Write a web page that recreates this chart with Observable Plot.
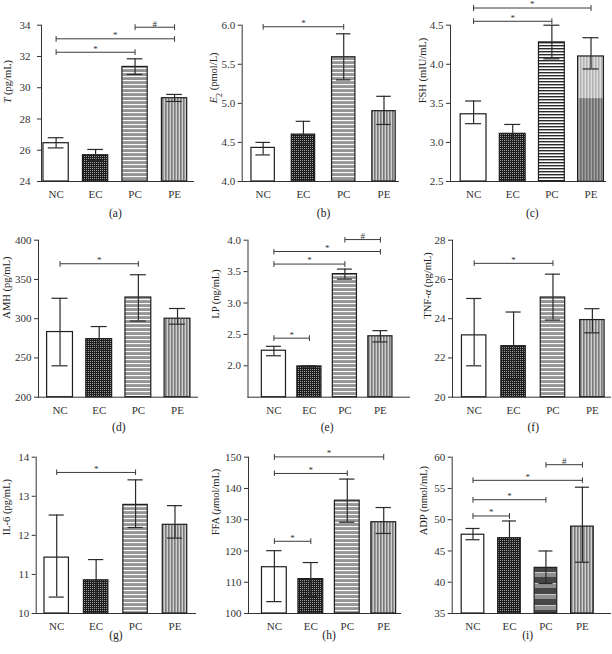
<!DOCTYPE html>
<html>
<head>
<meta charset="utf-8">
<script src="https://cdn.jsdelivr.net/npm/d3@7"></script>
<script src="https://cdn.jsdelivr.net/npm/@observablehq/plot@0.6"></script>
<style>
  body { margin: 0; background: #fff; }
  #fig { position: relative; width: 612px; height: 654px; overflow: hidden; }
  #fig svg { position: absolute; overflow: visible; }
</style>
</head>
<body>
<div id="fig"></div>
<script>
const groups = ["NC", "EC", "PC", "PE"]

// (a) T
const tMean = [26.45, 25.68, 31.33, 29.33]
const tLo = [26.15, 25.34, 30.85, 29.12]
const tHi = [26.8, 26.05, 31.85, 29.57]
const tTicks = [24, 26, 28, 30, 32, 34]
const tSig = [["NC", "PC", 32.27, "*"], ["NC", "PE", 33.13, "*"], ["PC", "PE", 33.87, "#"]]

// (b) E2
const e2Mean = [4.43, 4.60, 5.59, 4.90]
const e2Lo = [4.34, 4.48, 5.30, 4.73]
const e2Hi = [4.50, 4.77, 5.89, 5.09]
const e2Ticks = [4.0, 4.5, 5.0, 5.5, 6.0]
const e2Sig = [["NC", "PC", 5.98, "*"]]

// (c) FSH  (PE bar is two-toned, darker below fshSplit)
const fshMean = [3.36, 3.11, 4.28, 4.10]
const fshLo = [3.24, 3.04, 4.07, 3.94]
const fshHi = [3.53, 3.23, 4.50, 4.34]
const fshTicks = [2.5, 3.0, 3.5, 4.0, 4.5]
const fshSig = [["NC", "PC", 4.55, "*"], ["NC", "PE", 4.72, "*"]]
const fshSplit = 3.56

// (d) AMH
const amhMean = [283, 274, 327, 300]
const amhLo = [240, 260, 297, 293]
const amhHi = [326, 290, 356, 313]
const amhTicks = [200, 250, 300, 350, 400]
const amhSig = [["NC", "PC", 370, "*"]]

// (e) LP
const lpMean = [2.24, 1.99, 3.46, 2.47]
const lpLo = [2.16, 1.98, 3.38, 2.38]
const lpHi = [2.31, 2.00, 3.54, 2.56]
const lpTicks = [2.0, 2.5, 3.0, 3.5, 4.0]
const lpFloor = 1.5
const lpSig = [["NC", "EC", 2.44, "*"], ["NC", "PC", 3.62, "*"], ["NC", "PE", 3.82, "*"], ["PC", "PE", 4.01, "#"]]

// (f) TNF-a
const tnfMean = [23.15, 22.6, 25.08, 23.93]
const tnfLo = [21.6, 20.9, 23.93, 23.28]
const tnfHi = [25.03, 24.34, 26.27, 24.51]
const tnfTicks = [20, 22, 24, 26, 28]
const tnfSig = [["NC", "PC", 26.82, "*"]]

// (g) IL-6
const il6Mean = [11.43, 10.85, 12.78, 12.27]
const il6Lo = [10.42, 10.36, 12.2, 11.93]
const il6Hi = [12.52, 11.38, 13.42, 12.76]
const il6Ticks = [10, 11, 12, 13, 14]
const il6Sig = [["NC", "PC", 13.61, "*"]]

// (h) FFA
const ffaMean = [114.8, 111.0, 136.1, 129.2]
const ffaLo = [103.8, 105.5, 129.2, 125.6]
const ffaHi = [120.1, 116.3, 143.0, 133.9]
const ffaTicks = [100, 110, 120, 130, 140, 150]
const ffaSig = [["NC", "EC", 123.1, "*"], ["NC", "PC", 144.8, "*"], ["NC", "PE", 150.1, "*"]]

// (i) ADP
const adpMean = [47.6, 47.05, 42.3, 48.9]
const adpLo = [46.8, 44.6, 39.8, 43.2]
const adpHi = [48.6, 49.8, 45.0, 55.2]
const adpTicks = [35, 40, 45, 50, 55, 60]
const adpSig = [["NC", "EC", 50.6, "*"], ["NC", "PC", 53.2, "*"], ["NC", "PE", 56.3, "*"], ["PC", "PE", 58.8, "#"]]

const panels = [
  {cap: "(a)", label: "*T* (pg/mL)", mean: tMean, lo: tLo, hi: tHi, ticks: tTicks, sig: tSig},
  {cap: "(b)", label: "*E*_2_ (pmol/L)", mean: e2Mean, lo: e2Lo, hi: e2Hi, ticks: e2Ticks, sig: e2Sig, fmt: ".1f"},
  {cap: "(c)", label: "FSH (mIU/mL)", mean: fshMean, lo: fshLo, hi: fshHi, ticks: fshTicks, sig: fshSig, fmt: ".1f", split: fshSplit},
  {cap: "(d)", label: "AMH (pg/mL)", mean: amhMean, lo: amhLo, hi: amhHi, ticks: amhTicks, sig: amhSig},
  {cap: "(e)", label: "LP (ng/mL)", mean: lpMean, lo: lpLo, hi: lpHi, ticks: lpTicks, sig: lpSig, fmt: ".1f", floor: lpFloor},
  {cap: "(f)", label: "TNF-*α* (pg/mL)", mean: tnfMean, lo: tnfLo, hi: tnfHi, ticks: tnfTicks, sig: tnfSig},
  {cap: "(g)", label: "IL-6 (pg/mL)", mean: il6Mean, lo: il6Lo, hi: il6Hi, ticks: il6Ticks, sig: il6Sig},
  {cap: "(h)", label: "FFA (*μ*mol/mL)", mean: ffaMean, lo: ffaLo, hi: ffaHi, ticks: ffaTicks, sig: ffaSig},
  {cap: "(i)", label: "ADP (nmol/mL)", mean: adpMean, lo: adpLo, hi: adpHi, ticks: adpTicks, sig: adpSig}
]

// layout of each panel (pixels / x-domain in group units)
const colLeft = [0, 200, 400]
const rowTop = [0, 215, 434]
const rowH = [215, 219, 220]
const rowMt = [24.7, 24.7, 22.7]
const rowMb = [34, 37.3, 41]
const capDy = [35, 34, 25]
const layout = [
  {col: 0, row: 0, ml: 41, mr: 19, xd: [-0.37, 3.48], half: 0.32, labX: 7.5, pad: 7},
  {col: 1, row: 0, ml: 41.7, mr: 14, xd: [-0.52, 3.36], half: 0.29, labX: 13, pad: 3},
  {col: 2, row: 0, ml: 50, mr: 7, xd: [-0.59, 3.37], half: 0.33, labX: 22, pad: 3, pc: "bw"},
  {col: 0, row: 1, ml: 38, mr: 15, xd: [-0.55, 3.51], half: 0.33, labX: 6.5, pad: 3},
  {col: 1, row: 1, ml: 47.5, mr: 3, xd: [-0.73, 3.82], half: 0.34, labX: 15, pad: 3},
  {col: 2, row: 1, ml: 52, mr: 2, xd: [-0.55, 3.46], half: 0.31, labX: 27, pad: 3},
  {col: 0, row: 2, ml: 35.7, mr: 17, xd: [-0.52, 3.52], half: 0.31, labX: 6, pad: 3},
  {col: 1, row: 2, ml: 48, mr: 12, xd: [-0.71, 3.46], half: 0.34, labX: 15, pad: 3},
  {col: 2, row: 2, ml: 51.7, mr: 2, xd: [-0.57, 3.77], half: 0.31, labX: 23, pad: 3, pc: "band"}
]
const W = 212

function addPatterns(svg, pre, L) {
  const defs = d3.select(svg).insert("defs", ":first-child")
  const pat = (id, w, h) => defs.append("pattern").attr("id", pre + id)
    .attr("patternUnits", "userSpaceOnUse").attr("width", w).attr("height", h)
  const rect = (p, x, y, w, h, c) => p.append("rect").attr("x", x).attr("y", y).attr("width", w).attr("height", h).attr("fill", c)

  // EC: dark with fine light dots
  let p = pat("EC", 2, 2)
  rect(p, 0, 0, 2, 2, "#1d1d1d")
  rect(p, 0, 0, 1, 1, "#9c9c9c")

  // PC: horizontal stripes
  if (L.pc == "bw") {
    p = pat("PC", 3, 3)
    rect(p, 0, 0, 3, 3, "#fff")
    rect(p, 0, 0, 3, 1.4, "#2a2a2a")
  } else if (L.pc == "band") {
    p = pat("PC", 4, 11)
    rect(p, 0, 0, 4, 11, "#8f8f8f")
    rect(p, 0, 0, 4, 6, "#464646")
    rect(p, 0, 6, 4, 0.8, "#d8d8d8")
  } else {
    p = pat("PC", 4, 4)
    rect(p, 0, 0, 4, 4, "#959595")
    rect(p, 0, 0, 4, 1.1, "#fafafa")
  }

  // PE: vertical stripes
  p = pat("PE", 3, 4)
  rect(p, 0, 0, 3, 4, L.pc == "bw" ? "#dedede" : "#cfcfcf")
  rect(p, 0, 0, 1.6, 4, L.pc == "bw" ? "#b3b3b3" : "#7b7b7b")
  p = pat("PE2", 3, 4)
  rect(p, 0, 0, 3, 4, "#a2a2a2")
  rect(p, 0, 0, 1.6, 4, "#6c6c6c")
}

function markup(s) {
  return s.replace(/\*(.+?)\*/g, '<tspan font-style="italic">$1</tspan>')
    .replace(/_(.+?)_/g, '<tspan baseline-shift="sub" font-size="75%">$1</tspan>')
}

const fig = document.getElementById("fig")

panels.forEach((p, k) => {
  const L = layout[k]
  const pre = "p" + k + "-"
  const gi = g => groups.indexOf(g)
  const rows = groups.map((g, i) => ({i, g, mean: p.mean[i], lo: p.lo[i], hi: p.hi[i]}))
  const caps = rows.flatMap(d => [{i: d.i, y: d.lo}, {i: d.i, y: d.hi}])
  const sig = p.sig.map(([a, b, y, s]) => ({a: gi(a), b: gi(b), y, s}))
  const y0 = p.floor != null ? p.floor : p.ticks[0]
  const cap = L.half * 0.62
  const fillOf = d => d.g == "NC" ? "white" : `url(#${pre}${d.g})`
  const plainLabel = p.label.replace(/[*_]/g, "")

  const marks = [
    Plot.rectY(rows, {x1: d => d.i - L.half, x2: d => d.i + L.half, y1: y0, y2: "mean",
      fill: fillOf, stroke: "#1e1e1e", strokeWidth: 1.2})
  ]
  if (p.split != null) {
    marks.push(Plot.rectY(rows.filter(d => d.g == "PE"), {x1: d => d.i - L.half, x2: d => d.i + L.half,
      y1: y0, y2: p.split, fill: () => `url(#${pre}PE2)`, insetLeft: 0.7, insetRight: 0.7, insetBottom: 0.7}))
  }
  marks.push(
    Plot.ruleX(rows, {x: "i", y1: "lo", y2: "hi", stroke: "#2a2a2a", strokeWidth: 1.2}),
    Plot.ruleY(caps, {x1: d => d.i - cap, x2: d => d.i + cap, y: "y", stroke: "#2a2a2a", strokeWidth: 1.2}),
    Plot.link(sig, {x1: "a", x2: "b", y1: "y", y2: "y", stroke: "#3a3a3a", strokeWidth: 1,
      markerStart: "tick", markerEnd: "tick"}),
    Plot.text(sig, {x: d => (d.a + d.b) / 2, y: "y", text: "s", dy: -3.5, fontSize: 9, fill: "#333"}),
    Plot.text([plainLabel], {frameAnchor: "left", rotate: -90, dx: L.labX - L.ml,
      fontSize: 10.5, fill: "#222"}),
    Plot.text([p.cap], {x: 1.5, frameAnchor: "bottom", dy: capDy[L.row], fontSize: 11.5, fill: "#222"})
  )

  const svg = Plot.plot({
    width: W,
    height: rowH[L.row],
    marginLeft: L.ml,
    marginRight: L.mr,
    marginTop: rowMt[L.row],
    marginBottom: rowMb[L.row],
    x: {domain: L.xd, ticks: [0, 1, 2, 3], tickFormat: i => groups[i], tickSize: 0, tickPadding: 8.5, line: true, label: null},
    y: {domain: [y0, p.ticks[p.ticks.length - 1]], ticks: p.ticks, tickFormat: p.fmt ? d3.format(p.fmt) : d3.format("d"),
      tickSize: 4, tickPadding: L.pad, line: true, label: null},
    color: {type: "identity"},
    style: {fontFamily: '"Liberation Serif", serif', fontSize: "11px", color: "#333", background: "transparent", overflow: "visible"},
    marks
  })
  addPatterns(svg, pre, L)
  d3.select(svg).selectAll("text")
    .filter(function () { return this.textContent === plainLabel })
    .html(markup(p.label))
  svg.style.left = colLeft[L.col] + "px"
  svg.style.top = rowTop[L.row] + "px"
  fig.append(svg)
})
</script>
</body>
</html>
